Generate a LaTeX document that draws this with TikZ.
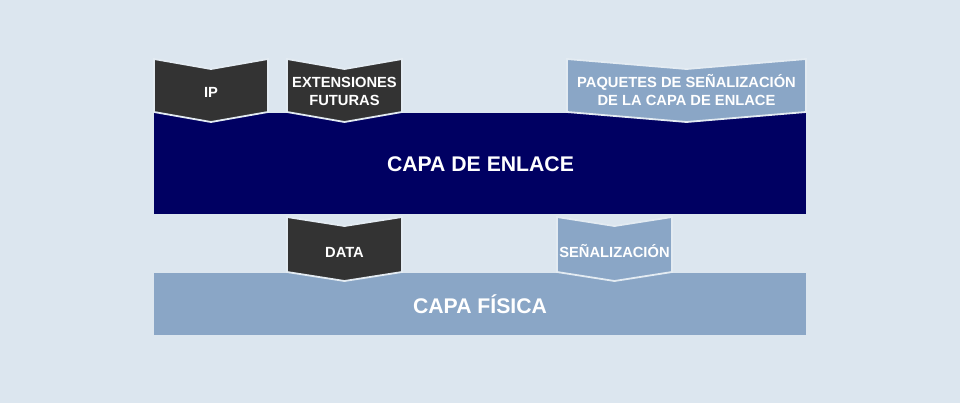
\documentclass[tikz,border=0pt]{standalone}
\usepackage{fontspec}
\setmainfont{Liberation Sans}
\definecolor{bgc}{HTML}{DCE6EF}
\definecolor{navy}{HTML}{000062}
\definecolor{darkc}{HTML}{333333}
\definecolor{lightc}{HTML}{8AA6C6}
\begin{document}
\begin{tikzpicture}[x=1pt,y=-1pt,
  chev/.style={line width=1.8pt,draw=bgc!80!white,line join=miter},
  lbl/.style={text=white,font=\bfseries\fontsize{14.7}{18}\selectfont,anchor=base,inner sep=0pt},
  biglbl/.style={text=white,font=\bfseries\fontsize{21.2}{25}\selectfont,anchor=base,inner sep=0pt}]
\useasboundingbox (0,0) rectangle (960,403);
\fill[bgc] (0,0) rectangle (960,403);
% layers
\fill[navy] (154,113) rectangle (806,214);
\fill[lightc] (154,273) rectangle (806,335);
% chevrons
\newcommand{\chevron}[6]{% fill, L, R, T, B, d
  \filldraw[chev,fill=#1] (#2,#4) -- ({(#2+#3)/2},{#4+#6}) -- (#3,#4) -- (#3,#5) -- ({(#2+#3)/2},{#5+#6}) -- (#2,#5) -- cycle;}
\chevron{darkc}{154}{268}{59}{112}{10}
\chevron{darkc}{287}{402}{59}{112}{10}
\chevron{lightc}{567}{806}{59}{112}{10}
\chevron{darkc}{287}{402}{217}{272}{9}
\chevron{lightc}{557}{672}{217}{272}{9}
% labels
\node[lbl] (ip) at (211,98) {IP};
\node[lbl] (ext1) at (344.5,88) {EXTENSIONES};
\node[lbl] (ext2) at (344.5,106) {FUTURAS};
\node[lbl] (paq1) at (686.5,88) {PAQUETES DE SEÑALIZACIÓN};
\node[lbl] (paq2) at (686.5,106) {DE LA CAPA DE ENLACE};
\node[biglbl] (enlace) at (480.5,172) {CAPA DE ENLACE};
\node[lbl] (data) at (344.5,257) {DATA};
\node[lbl] (senal) at (614.5,257) {SEÑALIZACIÓN};
\node[biglbl] (fisica) at (480,313) {CAPA FÍSICA};
\end{tikzpicture}
\end{document}
